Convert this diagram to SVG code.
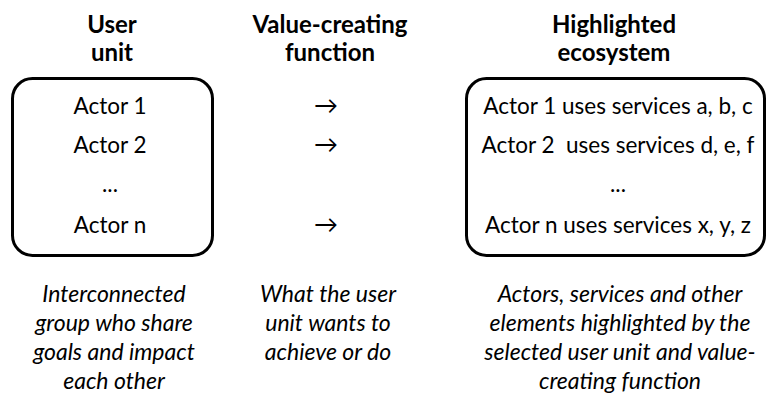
<svg xmlns="http://www.w3.org/2000/svg" width="768" height="395" viewBox="0 0 768 395">
  <style>
    text { font-family: Lato, "Open Sans", "DejaVu Sans", sans-serif; fill: #000; text-anchor: middle; }
    .hd { font-size: 24px; font-weight: bold; }
    .row { font-size: 22.5px; }
    .arr { font-size: 24px; }
    .note { font-size: 23px; font-style: italic; }
    .box { fill: #fff; stroke: #000; stroke-width: 3; }
  </style>
  <rect width="768" height="395" fill="#fff"/>

  <!-- column headings -->
  <g id="heading-user-unit">
    <text class="hd" x="112" y="33">User</text>
    <text class="hd" x="112" y="61">unit</text>
  </g>
  <g id="heading-function">
    <text class="hd" x="330" y="33">Value-creating</text>
    <text class="hd" x="330" y="61">function</text>
  </g>
  <g id="heading-ecosystem">
    <text class="hd" x="614" y="33">Highlighted</text>
    <text class="hd" x="614" y="61">ecosystem</text>
  </g>

  <!-- user unit box -->
  <g id="user-unit">
    <rect class="box" x="12.5" y="78.5" width="200" height="177" rx="20"/>
    <text class="row" x="110" y="114">Actor 1</text>
    <text class="row" x="110" y="153">Actor 2</text>
    <text class="row" x="110" y="192">...</text>
    <text class="row" x="110" y="233">Actor n</text>
  </g>

  <!-- arrows between the two boxes -->
  <g id="connectors">
    <text class="arr" x="326" y="114">→</text>
    <text class="arr" x="326" y="153">→</text>
    <text class="arr" x="326" y="233">→</text>
  </g>

  <!-- highlighted ecosystem box -->
  <g id="ecosystem">
    <rect class="box" x="466.5" y="78.5" width="298" height="177" rx="20"/>
    <text class="row" x="618" y="114">Actor 1 uses services a, b, c</text>
    <text class="row" x="618" y="153" xml:space="preserve">Actor 2  uses services d, e, f</text>
    <text class="row" x="618" y="192">...</text>
    <text class="row" x="618" y="233">Actor n uses services x, y, z</text>
  </g>

  <!-- descriptions -->
  <g id="note-user-unit">
    <text class="note" x="114" y="302">Interconnected</text>
    <text class="note" x="114" y="331">group who share</text>
    <text class="note" x="114" y="360">goals and impact</text>
    <text class="note" x="114" y="389">each other</text>
  </g>
  <g id="note-function">
    <text class="note" x="328" y="302">What the user</text>
    <text class="note" x="328" y="331">unit wants to</text>
    <text class="note" x="328" y="360">achieve or do</text>
  </g>
  <g id="note-ecosystem">
    <text class="note" x="620" y="302">Actors, services and other</text>
    <text class="note" x="620" y="331">elements highlighted by the</text>
    <text class="note" x="620" y="360">selected user unit and value-</text>
    <text class="note" x="620" y="389">creating function</text>
  </g>
</svg>
